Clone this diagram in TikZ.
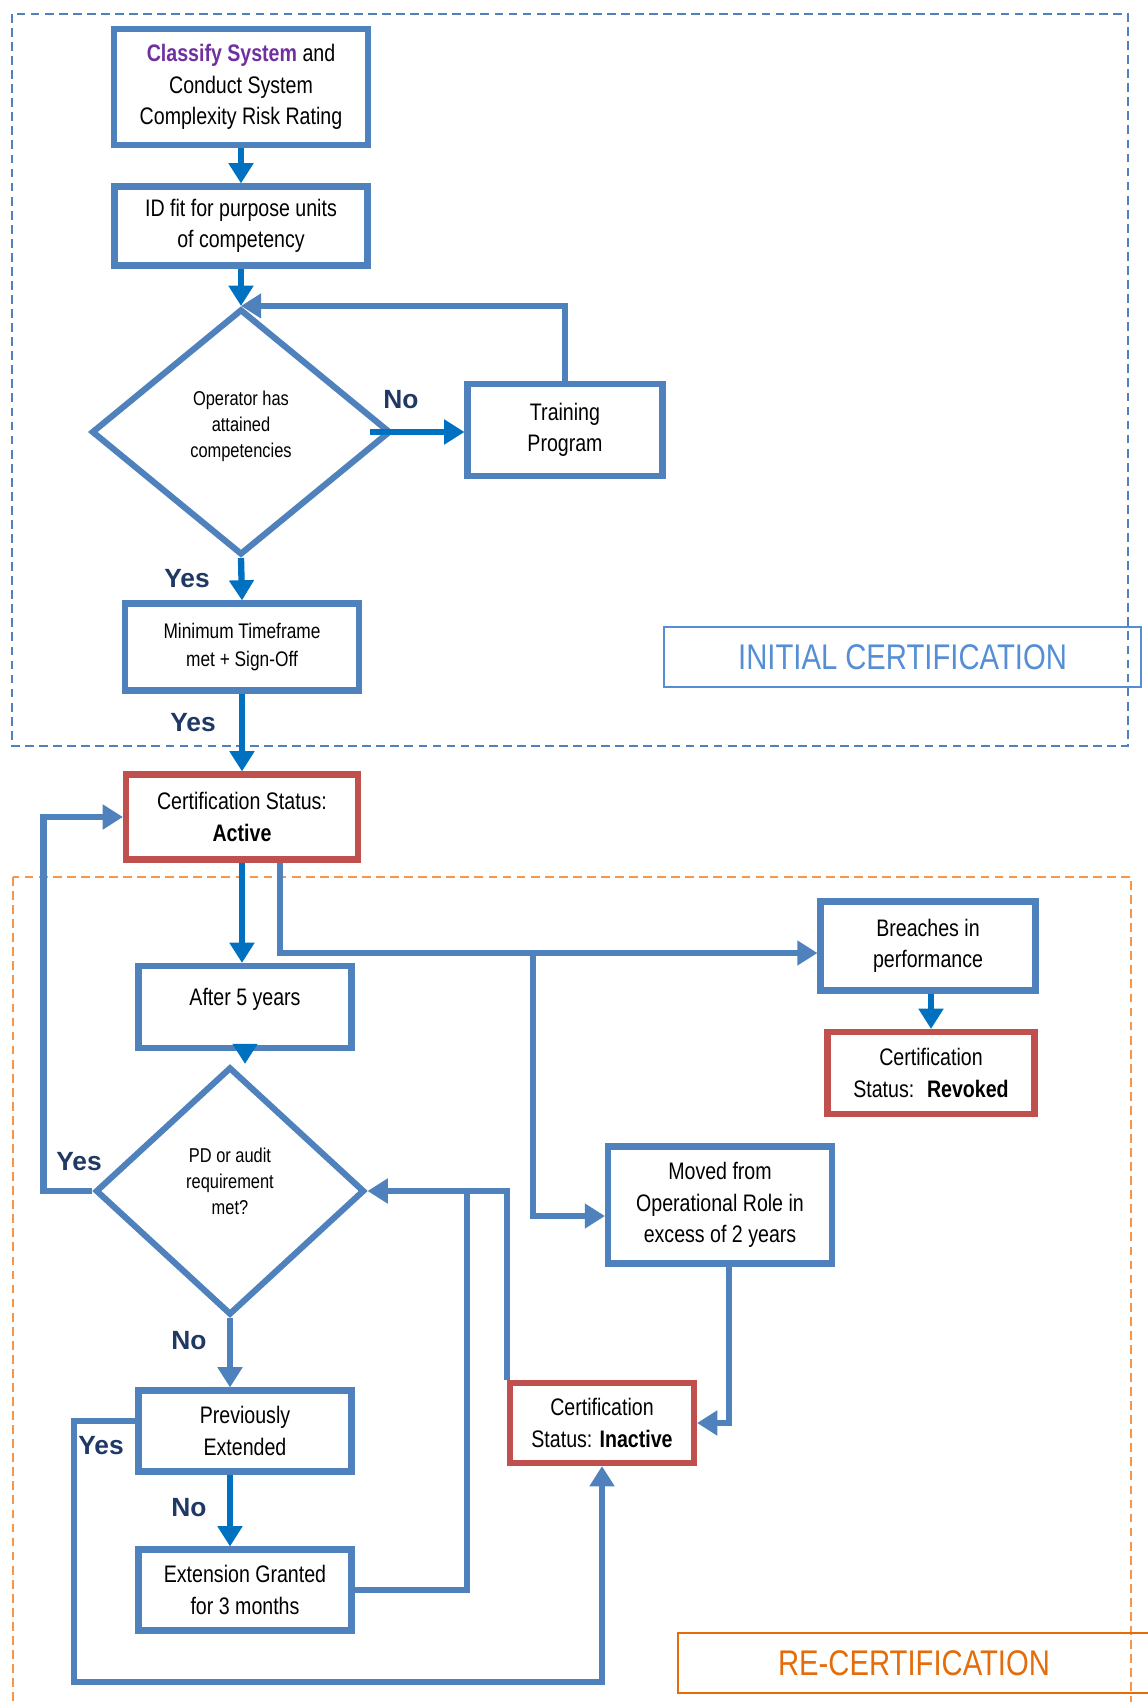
\documentclass[tikz,border=0pt]{standalone}
\usepackage{fontspec}
\setmainfont{Liberation Sans}[FakeStretch=0.82]
\newfontfamily\answerfont{Liberation Sans}
\usetikzlibrary{arrows.meta,shapes.geometric,calc}
\definecolor{boxblue}{HTML}{4F81BD}
\definecolor{flowblue}{HTML}{0070C0}
\definecolor{statred}{HTML}{C0504D}
\definecolor{zoneorange}{HTML}{F79646}
\definecolor{recertorange}{HTML}{E46C0A}
\definecolor{initblue}{HTML}{558ED5}
\definecolor{answernavy}{HTML}{1F3864}
\definecolor{classpurple}{HTML}{7030A0}

\begin{document}
\begin{tikzpicture}[x=0.02cm,y=-0.02cm]
	\tikzstyle{box}=[rectangle,draw=boxblue,line width=3.5pt,align=center,inner sep=2pt,font=\fontsize{13.6}{17.9}\selectfont]
	\tikzstyle{status}=[box,draw=statred]
	\tikzstyle{decision}=[diamond,draw=boxblue,line width=3.5pt,align=center,inner sep=0pt,font=\fontsize{11.4}{14.8}\selectfont]
	\tikzstyle{flow}=[line width=3.6pt,flowblue,-{Triangle[length=11.5pt,width=13.6pt]}]
	\tikzstyle{link}=[line width=3.6pt,boxblue,-{Triangle[length=11.5pt,width=13.6pt]}]
	\tikzstyle{answer}=[text=answernavy,font=\answerfont\bfseries\fontsize{15}{18}\selectfont]
	\tikzstyle{phase}=[rectangle,line width=1.2pt,font=\fontsize{20.3}{24}\selectfont]
	\tikzstyle{zone}=[line width=1.2pt,dash pattern=on 5pt off 3pt]
	\useasboundingbox (0,0) rectangle (1148,1702);
	% the two phases
	\draw [zone,boxblue] (12,14) rectangle (1128,746);
	\draw [zone,zoneorange] (13,877) rectangle (1131,1730);
	\node (initial) at (902.5,657) [phase,draw=initblue,text=initblue,minimum width=9.54cm,minimum height=1.2cm] {INITIAL CERTIFICATION};
	\node (recert)  at (914,1663)  [phase,draw=recertorange,text=recertorange,minimum width=9.44cm,minimum height=1.2cm] {RE-CERTIFICATION};
	% steps
	\node (classify)  at (241,87)   [box,minimum width=5.08cm,minimum height=2.32cm] {\textcolor{classpurple}{\textbf{Classify System}} and\\Conduct System\\Complexity Risk Rating};
	\node (units)     at (241,226)  [box,minimum width=5.06cm,minimum height=1.58cm] {ID fit for purpose units\\of competency};
	\node (attained)  at (241,432)  [decision,minimum width=5.98cm,minimum height=4.92cm] {Operator has\\attained\\competencies\\[-6.2pt]};
	\node (training)  at (565,430)  [box,minimum width=3.9cm,minimum height=1.84cm] {Training\\Program};
	\node (signoff)   at (242,647)  [box,font=\fontsize{12}{16}\selectfont,minimum width=4.68cm,minimum height=1.74cm] {Minimum Timeframe\\met + Sign-Off};
	\node (active)    at (242,817)  [status,minimum width=4.64cm,minimum height=1.70cm] {Certification Status:\\\textbf{Active}};
	\node (fiveyears) at (245,1007) [box,minimum width=4.26cm,minimum height=1.64cm] {After 5 years\\[-12pt]\strut};
	\node (pdmet)     at (230,1191) [decision,minimum width=5.38cm,minimum height=4.96cm] {PD or audit\\requirement\\met?\\[-3.8pt]};
	\node (extended)  at (245,1431) [box,minimum width=4.26cm,minimum height=1.62cm] {Previously\\Extended};
	\node (extension) at (245,1590) [box,minimum width=4.26cm,minimum height=1.62cm] {Extension Granted\\for 3 months};
	\node (inactive)  at (602,1423) [status,minimum width=3.68cm,minimum height=1.60cm] {Certification\\Status: \textbf{Inactive}};
	\node (moved)     at (720,1205) [box,minimum width=4.48cm,minimum height=2.34cm] {Moved from\\Operational Role in\\excess of 2 years};
	\node (breaches)  at (928,946)  [box,minimum width=4.30cm,minimum height=1.78cm] {Breaches in\\performance};
	\node (revoked)   at (931,1073) [status,minimum width=4.14cm,minimum height=1.64cm] {Certification\\Status:~ \textbf{Revoked}};
	% answers
	\node (no1)  at (401,400)  [answer] {No};
	\node (yes1) at (187,579)  [answer] {Yes};
	\node (yes2) at (193,723)  [answer] {Yes};
	\node (yes3) at (79,1162)  [answer] {Yes};
	\node (no2)  at (189,1341) [answer] {No};
	\node (yes4) at (101,1446) [answer] {Yes};
	\node (no3)  at (189,1508) [answer] {No};
	\coordinate (fork) at (533,953);
	\coordinate (loopcorner) at (74,1682);
	\coordinate (joinup) at (467,1191);
	% initial certification flow
	\draw [flow] (classify) -- (units);
	\draw [flow] (units) -- (attained);
	\draw [flow] ($(attained.east)+(-24,0)$) -- (attained.east -| training.west);
	\draw [link] (training.north) |- (attained.north);
	\draw [flow] (attained.south) -- (signoff.north);
	\draw [flow] (signoff) -- (active);
	% re-certification flow
	\draw [flow] (active.south) -- (active.south |- fiveyears.north);
	\draw [link] ($(active.south)+(38,0)$) |- ($(breaches.west)+(0,7)$);
	\draw [link] (fork) |- ($(moved.west)+(0,11)$);
	\draw [flow] (revoked.north |- breaches.south) -- (revoked.north);
	\draw [flow] (fiveyears.south) -- (fiveyears.south |- pdmet.north);
	\draw [link] (pdmet.west) -- ++(-49,0) |- (active.west);
	\draw [link] (pdmet.south) -- (pdmet.south |- extended.north);
	\draw [flow] (pdmet.south |- extended.south) -- (pdmet.south |- extension.north);
	\draw [link] ($(extended.west)+(0,-10)$) -| (loopcorner) -| (inactive.south);
	\draw [link] (extension.east) -| (joinup) -- (pdmet.east);
	\draw [line width=3.6pt,boxblue] (inactive.north west) |- (joinup);
	\draw [link] ($(moved.south)+(9,0)$) |- (inactive.east);
\end{tikzpicture}
\end{document}
